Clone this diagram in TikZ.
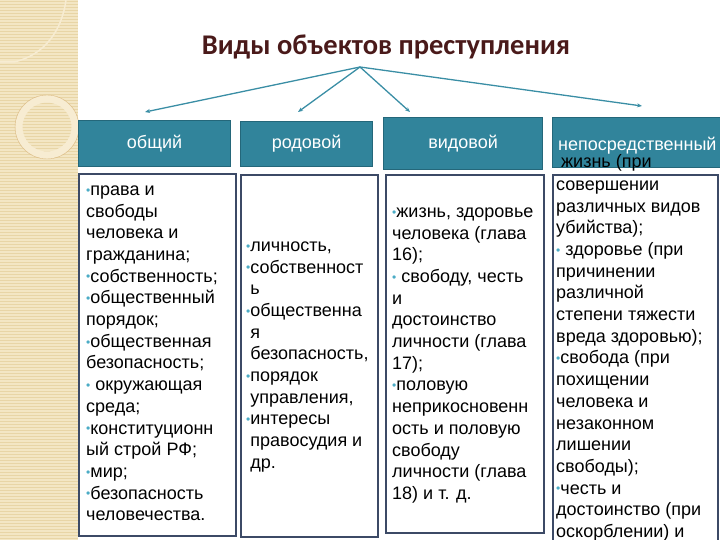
\documentclass[tikz,border=0pt]{standalone}
\usepackage{fontspec}
\setmainfont{Liberation Sans}
\newfontfamily\titlefont{Carlito}
\usetikzlibrary{arrows.meta}
\definecolor{hdrfill}{HTML}{31849B}
\definecolor{hdrdraw}{HTML}{24677A}
\definecolor{boxdraw}{HTML}{3C4A66}
\definecolor{titlec}{HTML}{4A1A1A}
\definecolor{arrc}{HTML}{3A8EA5}
\definecolor{bulc}{HTML}{4BACC6}
\definecolor{beige}{HTML}{F3E6C4}
\definecolor{beigeline}{HTML}{E8D5A6}
\definecolor{beigering}{HTML}{F7ECD2}
\newcommand\bul{{\color{bulc}\fontsize{12}{12}\selectfont\raisebox{1.2pt}{•}}}
\newcommand\bodyfs{\fontsize{18}{21.7}\selectfont}
\tikzset{
  hdr/.style={draw=hdrdraw, fill=hdrfill, line width=1.2pt, text=white,
    font=\bodyfs, inner sep=0pt, anchor=north west},
  cbox/.style={draw=boxdraw, fill=white, line width=1.6pt, inner sep=0pt, anchor=north west},
  ctext/.style={align=left, anchor=north west, inner sep=0pt, font=\bodyfs},
  arr/.style={draw=arrc, line width=1.3pt, -{Stealth[length=5pt,width=4pt]}}
}
\begin{document}
\begin{tikzpicture}[x=1pt,y=-1pt]
\useasboundingbox (0,0) rectangle (720,540);
% left decorative strip
\fill[beige] (0,0) rectangle (78,540);
\foreach \yy in {1.5,4.5,...,540} \draw[beigeline, line width=0.6pt] (0,\yy) -- (78,\yy);
\draw[beigering, line width=7pt] (47,127) circle[radius=28pt];
\draw[beigeline!70!brown, line width=0.4pt] (47,127) circle[radius=32pt];
\draw[beigering, line width=1.5pt] (0,62) -- (14,62) .. controls (45,55) and (62,30) .. (66,0);
% title
\node[font=\titlefont\bfseries\fontsize{28.5}{32}\selectfont, text=titlec, anchor=center] (title) at (386,47) {Виды объектов преступления};
\coordinate (src) at (360,67);
\coordinate (e1) at (145,112);
\coordinate (e2) at (298,112);
\coordinate (e3) at (410,112);
\coordinate (e4) at (642,106);
\draw[arr] (src) -- (e1);
\draw[arr] (src) -- (e2);
\draw[arr] (src) -- (e3);
\draw[arr] (src) -- (e4);
% headers
\node[hdr, minimum width=152pt, minimum height=46pt] (h1) at (78,120) {общий};
\node[hdr, minimum width=132pt, minimum height=45pt] (h2) at (240,121) {родовой};
\node[hdr, minimum width=159pt, minimum height=52pt] (h3) at (383,117) {видовой};
\node[hdr, minimum width=170pt, minimum height=50pt] (h4) at (552,117) {};
\node[anchor=base west, inner sep=0pt, font=\bodyfs, text=white] (h4t) at (558,151) {непосредственный};
% content boxes
\node[cbox, minimum width=157pt, minimum height=362pt] (b1) at (78,173) {};
\node[cbox, minimum width=137pt, minimum height=362pt] (b2) at (240,174) {};
\node[cbox, minimum width=158pt, minimum height=358pt] (b3) at (385,174) {};
\node[cbox, minimum width=165pt, minimum height=372pt] (b4) at (552,174) {};
% texts
\node[ctext] (t1) at (86,180) {\strut\bul права и\\
свободы\\
человека и\\
гражданина;\\
\bul собственность;\\
\bul общественный\\
порядок;\\
\bul общественная\\
безопасность;\\
\bul\ окружающая\\
среда;\\
\bul конституционн\\
ый строй РФ;\\
\bul мир;\\
\bul безопасность\\
человечества.};
\node[ctext] (t2) at (246,236) {\strut\bul личность,\\
\bul собственност\\
\phantom{\bul}ь\\
\bul общественна\\
\phantom{\bul}я\\
\phantom{\bul}безопасность,\\
\bul порядок\\
\phantom{\bul}управления,\\
\bul интересы\\
\phantom{\bul}правосудия и\\
\phantom{\bul}др.};
\node[ctext] (t3) at (392,202) {\strut\bul жизнь, здоровье\\
человека (глава\\
16);\\
\bul\ свободу, честь\\
и\\
достоинство\\
личности (глава\\
17);\\
\bul половую\\
неприкосновенн\\
ость и половую\\
свободу\\
личности (глава\\
18) и т. д.};
\node[ctext] (t4) at (556,152) {\strut\ жизнь (при\\[1.3pt]
совершении\\
различных видов\\
убийства);\\
\bul\ здоровье (при\\
причинении\\
различной\\
степени тяжести\\
вреда здоровью);\\
\bul свобода (при\\
похищении\\
человека и\\
незаконном\\
лишении\\
свободы);\\
\bul честь и\\
достоинство (при\\
оскорблении) и};
\end{tikzpicture}
\end{document}
